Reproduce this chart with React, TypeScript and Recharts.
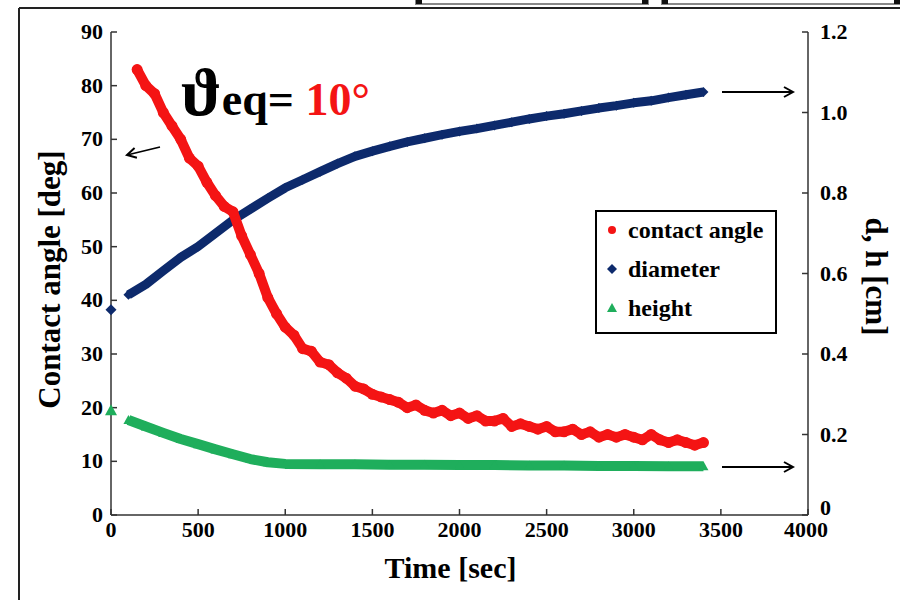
import React from 'react';
import { ComposedChart, Scatter, XAxis, YAxis } from 'recharts';

const angleTime = [150,200,250,300,350,400,450,500,550,600,650,700,750,800,850,900,950,1000,1050,1100,1150,1200,1250,1300,1350,1400,1450,1500,1550,1600,1650,1700,1750,1800,1850,1900,1950,2000,2050,2100,2150,2200,2250,2300,2350,2400,2450,2500,2550,2600,2650,2700,2750,2800,2850,2900,2950,3000,3050,3100,3150,3200,3250,3300,3350,3400];
const angleValues = [83.0,80.0,78.5,75.0,72.5,70.0,66.5,65.0,62.0,59.5,57.5,56.5,52.0,48.5,45.0,40.5,37.5,35.0,33.5,31.0,30.5,28.5,28.0,26.5,25.5,24.0,23.5,22.5,22.0,21.5,21.0,20.0,20.5,19.5,19.0,19.5,18.5,19.0,18.0,18.5,17.5,17.5,18.0,16.5,17.0,16.5,16.0,16.5,15.5,15.5,16.0,15.0,15.5,14.5,15.0,14.5,15.0,14.5,14.0,15.0,14.0,13.5,14.0,13.5,13.0,13.5];

const diameterTime = [100,200,300,400,500,600,700,800,900,1000,1100,1200,1300,1400,1500,1600,1700,1800,1900,2000,2100,2200,2300,2400,2500,2600,2700,2800,2900,3000,3100,3200,3300,3400];
const diameterValues = [0.547,0.573,0.607,0.640,0.667,0.700,0.733,0.760,0.787,0.813,0.833,0.853,0.873,0.891,0.904,0.916,0.927,0.936,0.945,0.953,0.960,0.968,0.976,0.984,0.991,0.997,1.004,1.011,1.017,1.024,1.029,1.037,1.044,1.051];

const heightTime = [100,200,300,400,500,600,700,800,900,1000,1200,1400,1600,1800,2000,2200,2400,2600,2800,3000,3200,3400];
const heightValues = [0.236,0.220,0.204,0.189,0.176,0.163,0.151,0.139,0.131,0.127,0.126,0.126,0.125,0.125,0.124,0.124,0.123,0.123,0.122,0.122,0.121,0.121];

const initialTime = [0];
const initialDiameter = [0.51];
const initialHeight = [0.26];

const xTicks = [0,500,1000,1500,2000,2500,3000,3500,4000];
const leftTicks = [0,10,20,30,40,50,60,70,80,90];
const rightTicks = [0,0.2,0.4,0.6,0.8,1.0,1.2];

const legendLabels = ['contact angle', 'diameter', 'height'];

const RED = '#f41414';
const NAVY = '#0d2a6c';
const GREEN = '#1fae5c';
const FONT = 'Liberation Serif';

const toData = (ts: number[], vs: number[]) => ts.map((t, i) => ({ t, v: vs[i] }));

const angleData = toData(angleTime, angleValues);
const diameterData = toData(diameterTime, diameterValues);
const heightData = toData(heightTime, heightValues);
const diameterStart = toData(initialTime, initialDiameter);
const heightStart = toData(initialTime, initialHeight);

const Dot = (color: string, r: number) => (p: any) => (
  <circle cx={p.cx} cy={p.cy} r={r} fill={color} />
);
const Diamond = (color: string, s: number) => (p: any) => (
  <polygon points={`${p.cx},${p.cy - s} ${p.cx + s},${p.cy} ${p.cx},${p.cy + s} ${p.cx - s},${p.cy}`} fill={color} />
);
const Tri = (color: string, s: number) => (p: any) => (
  <polygon points={`${p.cx},${p.cy - s} ${p.cx + s},${p.cy + s * 0.8} ${p.cx - s},${p.cy + s * 0.8}`} fill={color} />
);

const XTick = (p: any) => {
  const v = p.payload.value;
  const last = v === 4000;
  return (
    <text x={p.x + (last ? -2 : 0)} y={p.y + 22} textAnchor="middle" fontFamily={FONT} fontWeight="bold" fontSize={22} fill="#000">
      {v}
    </text>
  );
};
const LTick = (p: any) => (
  <text x={p.x} y={p.y + 7} textAnchor="end" fontFamily={FONT} fontWeight="bold" fontSize={22} fill="#000">
    {p.payload.value}
  </text>
);
const RTick = (p: any) => {
  const v = p.payload.value;
  return (
    <text x={p.x} y={p.y + (v === 0 ? 0 : 7)} textAnchor="start" fontFamily={FONT} fontWeight="bold" fontSize={22} fill="#000">
      {v === 0 ? '0' : v.toFixed(1)}
    </text>
  );
};

const xTitleStyle = { fill: '#000', fontSize: 30, fontWeight: 'bold' as const, fontFamily: FONT };
const yTitleStyle = { fill: '#000', fontSize: 31, fontWeight: 'bold' as const, fontFamily: FONT };
const axisStroke = { stroke: '#333', strokeWidth: 1.5 };

export default function App() {
  return (
    <div style={{ position: 'absolute', left: 0, top: 0, width: 900, height: 600, background: '#fff', overflow: 'hidden' }}>
      <ComposedChart width={900} height={600} margin={{ top: 32, right: 10, bottom: 0, left: 20 }}>
        <XAxis
          dataKey="t"
          type="number"
          domain={[0, 4000]}
          ticks={xTicks}
          interval={0}
          tick={<XTick />}
          tickSize={-6}
          tickMargin={6}
          axisLine={axisStroke}
          tickLine={axisStroke}
          height={85}
          label={{ value: 'Time [sec]', position: 'center', dx: -9, dy: 10, style: xTitleStyle }}
        />
        <YAxis
          yAxisId="left"
          dataKey="v"
          type="number"
          domain={[0, 90]}
          ticks={leftTicks}
          interval={0}
          tick={<LTick />}
          tickSize={-6}
          tickMargin={14}
          axisLine={axisStroke}
          tickLine={axisStroke}
          width={91}
          label={{ value: 'Contact angle [deg]', angle: -90, position: 'center', dx: -17, dy: 6, style: yTitleStyle }}
        />
        <YAxis
          yAxisId="right"
          orientation="right"
          dataKey="v"
          type="number"
          domain={[0, 1.2]}
          ticks={rightTicks}
          interval={0}
          tick={<RTick />}
          tickSize={-6}
          tickMargin={18}
          axisLine={axisStroke}
          tickLine={axisStroke}
          width={82}
          label={{ value: 'd, h [cm]', angle: 90, position: 'center', dx: 28, dy: 3, style: yTitleStyle }}
        />
        <Scatter
          yAxisId="right"
          data={heightData}
          fill={GREEN}
          line={{ stroke: GREEN, strokeWidth: 10, strokeLinejoin: 'round' }}
          shape={Tri(GREEN, 5)}
          isAnimationActive={false}
        />
        <Scatter
          yAxisId="right"
          data={diameterData}
          fill={NAVY}
          line={{ stroke: NAVY, strokeWidth: 9, strokeLinejoin: 'round' }}
          shape={Diamond(NAVY, 5)}
          isAnimationActive={false}
        />
        <Scatter
          yAxisId="left"
          data={angleData}
          fill={RED}
          line={{ stroke: RED, strokeWidth: 10, strokeLinejoin: 'round', strokeLinecap: 'round' }}
          shape={Dot(RED, 5.5)}
          isAnimationActive={false}
        />
        <Scatter yAxisId="right" data={diameterStart} fill={NAVY} shape={Diamond(NAVY, 5.5)} isAnimationActive={false} />
        <Scatter yAxisId="right" data={heightStart} fill={GREEN} shape={Tri(GREEN, 6)} isAnimationActive={false} />
      </ComposedChart>

      <svg width={900} height={600} style={{ position: 'absolute', left: 0, top: 0, pointerEvents: 'none' }}>
        <defs>
          <marker id="ah" markerWidth="12" markerHeight="12" refX="10" refY="6" orient="auto" markerUnits="userSpaceOnUse">
            <path d="M1,1 L10,6 L1,11" fill="none" stroke="#000" strokeWidth="2" />
          </marker>
        </defs>
        <line x1={19} y1={8} x2={900} y2={8} stroke="#222" strokeWidth={2} />
        <line x1={19} y1={8} x2={19} y2={600} stroke="#222" strokeWidth={2} />
        <rect x={416} y={-3} width={232} height={7} fill="#fff" stroke="#888" strokeWidth={2} />
        <rect x={416} y={0} width={6} height={4} fill="#111" />
        <rect x={642} y={0} width={6} height={4} fill="#111" />
        <rect x={662} y={-3} width={240} height={7} fill="#fff" stroke="#888" strokeWidth={2} />
        <rect x={662} y={0} width={6} height={4} fill="#111" />
        <rect x={894} y={0} width={6} height={4} fill="#111" />

        <line x1={160} y1={147} x2={127} y2={155} stroke="#000" strokeWidth={1.8} markerEnd="url(#ah)" />
        <line x1={722} y1={92} x2={793} y2={92} stroke="#000" strokeWidth={2} markerEnd="url(#ah)" />
        <line x1={722} y1={467} x2={793} y2={467} stroke="#000" strokeWidth={2} markerEnd="url(#ah)" />

        <text x={181} y={115} fontFamily={FONT} fontWeight="bold" fill="#000">
          <tspan fontSize={68}>ϑ</tspan>
          <tspan fontSize={46}>eq= </tspan>
          <tspan fontSize={46} fill={RED}>10°</tspan>
        </text>
      </svg>

      <div style={{ position: 'absolute', left: 595, top: 210, width: 178, height: 120, border: '2px solid #000', background: '#fff', fontFamily: FONT, fontWeight: 'bold', fontSize: 24, color: '#000' }}>
        {legendLabels.map((lab, i) => (
          <div key={lab} style={{ position: 'absolute', left: 0, top: 5 + i * 39, height: 26, display: 'flex', alignItems: 'center', whiteSpace: 'nowrap' }}>
            <svg width={28} height={26}>
              {i === 0 && <circle cx={15} cy={13} r={4} fill={RED} />}
              {i === 1 && <polygon points="15,8 20,13 15,18 10,13" fill={NAVY} />}
              {i === 2 && <polygon points="15,8 20,17 10,17" fill={GREEN} />}
            </svg>
            <span style={{ marginLeft: 3 }}>{lab}</span>
          </div>
        ))}
      </div>
    </div>
  );
}
